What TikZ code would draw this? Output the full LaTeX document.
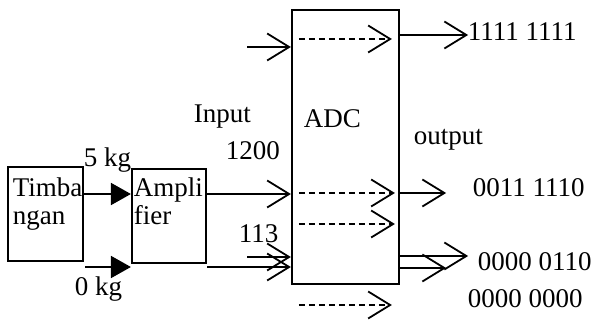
\documentclass[tikz,border=0pt]{standalone}
\usepackage{fontspec}
\setmainfont{Liberation Serif}
\usetikzlibrary{arrows.meta}

\begin{document}
\begin{tikzpicture}[x=1pt,y=-1pt,line width=1.8pt,>={Straight Barb[length=22pt,width=27pt]},
  blok/.style={draw,line width=2.2pt,inner sep=0pt},
  teks/.style={inner sep=0pt,font=\fontsize{27}{28}\selectfont},
  isi/.style={->,dash pattern=on 6pt off 4pt},
  segitiga/.style={-{Triangle[length=20pt,width=22pt]}}]
  \useasboundingbox (0,0) rectangle (594,320);
  % blok
  \node[blok,minimum width=75pt,minimum height=94pt] (timb) at (45.5,214) {};
  \node[blok,minimum width=74pt,minimum height=94pt] (amp) at (169,216) {};
  \node[blok,minimum width=107pt,minimum height=274pt] (adc) at (345.5,147) {};
  \node[teks,anchor=north west,align=left] (timbtxt) at (12,176.6) {Timba\\ngan};
  \node[teks,anchor=north west,align=left] (amptxt) at (133,176.6) {Ampli\\fier};
  \node[teks,anchor=base west] (adctxt) at (303,128) {ADC};
  % masukan
  \coordinate (nol) at (85,267);
  \coordinate (c113) at (247,257);
  \coordinate (atas) at (247,47);
  \draw[segitiga] (timb.east |- 0,194) -- (amp.west |- 0,194);
  \draw[segitiga] (nol) -- (nol -| amp.west);
  \draw[->] (amp.east |- 0,194) -- (adc.west |- 0,194);
  \draw[->] (nol -| amp.east) -- (nol -| adc.west);
  \draw[->] (c113) -- (c113 -| adc.west);
  \draw[->] (atas) -- (atas -| adc.west);
  % di dalam ADC
  \draw[isi] ([xshift=8pt]adc.west |- 0,39) -- ++(93,0);
  \draw[isi] ([xshift=8pt]adc.west |- 0,193) -- ++(96,0);
  \draw[isi] ([xshift=8pt]adc.west |- 0,224) -- ++(96,0);
  \draw[isi] ([xshift=8pt]adc.west |- 0,305) -- ++(93,0);
  % keluaran
  \draw[->] (adc.east |- 0,35) -- ++(68,0);
  \draw[->] (adc.east |- 0,193) -- ++(46,0);
  \draw[->] (adc.east |- 0,256) -- ++(68,0);
  \draw[->] (adc.east |- 0,268) -- ++(46,0);
  % label
  \node[teks,anchor=base west] (kg5) at (83,167) {5 kg};
  \node[teks,anchor=base west] (kg0) at (74,295) {0 kg};
  \node[teks,anchor=base west] (inp) at (193,123) {Input};
  \node[teks,anchor=base west] (v1200) at (225,160) {1200};
  \node[teks,anchor=base west] (v113) at (238,243) {113};
  \node[teks,anchor=base west] (outp) at (413,145) {output};
  \node[teks,anchor=base west] (o1) at (467,41) {1111 1111};
  \node[teks,anchor=base west] (o2) at (472,197) {0011 1110};
  \node[teks,anchor=base west] (o3) at (477,270) {0000 0110};
  \node[teks,anchor=base west] (o4) at (467,307) {0000 0000};
\end{tikzpicture}
\end{document}
